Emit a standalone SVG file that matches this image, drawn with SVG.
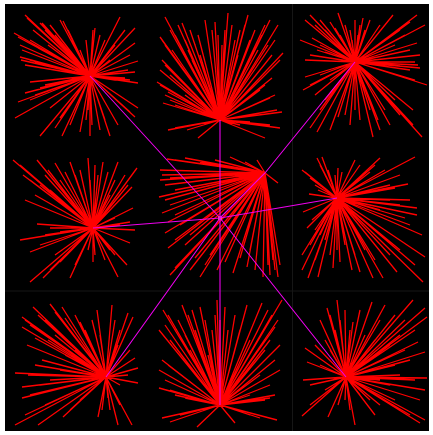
<svg xmlns="http://www.w3.org/2000/svg" width="433" height="435" viewBox="0 0 433 435">
<style>
.s{stroke:#ff0000;stroke-width:1.3;fill:none}
.e{stroke:#ee00ee;stroke-width:1.1;fill:none}
.g{stroke:#161616;stroke-width:1}
</style>
<rect x="0" y="0" width="433" height="435" fill="#ffffff"/>
<rect x="5" y="4" width="424" height="427" fill="#000000"/>
<g id="grid">
<line class="g" x1="292.5" y1="4" x2="292.5" y2="431"/>
<line class="g" x1="5" y1="291" x2="429" y2="291"/>
</g>
<g id="hub-tl">
<path class="s" d="M90 76L25 15M90 76L27 18M90 76L14 33M90 76L18 37M90 76L20 45M90 76L22 50M90 76L20 57M90 76L21 60M90 76L30 60M90 76L35 62M90 76L40 23M90 76L42 23M90 76L45 30M90 76L50 25M90 76L55 35M90 76L60 20M90 76L63 21M90 76L68 30M90 76L72 40M90 76L48 45M90 76L30 40M90 76L33 30M90 76L38 48M90 76L60 48M90 76L25 65M90 76L95 28M90 76L93 30M90 76L86 40M90 76L80 50M90 76L100 35M90 76L105 40M90 76L120 17M90 76L125 30M90 76L135 28M90 76L135 43M90 76L138 61M90 76L135 72M90 76L130 55M90 76L115 45M90 76L110 60M90 76L128 70M90 76L138 83M90 76L125 78M90 76L130 80M90 76L115 80M90 76L138 108M90 76L135 117M90 76L130 112M90 76L118 125M90 76L110 136M90 76L105 120M90 76L100 130M90 76L90 136M90 76L92 125M90 76L86 120M90 76L88 110M90 76L80 132M90 76L62 136M90 76L55 128M90 76L40 136M90 76L50 108M90 76L60 118M90 76L70 125M90 76L15 118M90 76L18 102M90 76L25 93M90 76L30 100M90 76L35 95M90 76L40 88M90 76L50 90M90 76L30 82M90 76L45 85"/>
</g>
<g id="hub-tm">
<path class="s" d="M220 120L157 82M220 120L160 85M220 120L163 103M220 120L170 100M220 120L165 95M220 120L175 105M220 120L168 92M220 120L160 70M220 120L162 60M220 120L165 65M220 120L170 75M220 120L180 80M220 120L185 95M220 120L160 37M220 120L162 40M220 120L165 45M220 120L165 17M220 120L170 30M220 120L172 50M220 120L175 35M220 120L178 25M220 120L182 23M220 120L185 40M220 120L188 50M220 120L190 30M220 120L195 45M220 120L192 60M220 120L198 35M220 120L200 55M220 120L205 20M220 120L208 40M220 120L212 30M220 120L215 22M220 120L218 35M220 120L222 45M220 120L225 30M220 120L228 13M220 120L232 25M220 120L235 40M220 120L238 55M220 120L240 30M220 120L245 25M220 120L248 15M220 120L250 40M220 120L255 30M220 120L258 50M220 120L262 35M220 120L265 25M220 120L270 20M220 120L268 45M220 120L272 55M220 120L278 25M220 120L275 40M220 120L283 53M220 120L280 60M220 120L272 78M220 120L270 70M220 120L265 85M220 120L260 90M220 120L275 95M220 120L270 98M220 120L277 110M220 120L282 112M220 120L168 130M220 120L175 128M220 120L187 130M220 120L198 138M220 120L265 138M220 120L280 128M220 120L250 122M220 120L270 125M220 120L240 125"/>
</g>
<g id="hub-tr">
<path class="s" d="M355 62L305 20M355 62L310 15M355 62L315 25M355 62L320 20M355 62L325 30M355 62L330 22M355 62L338 13M355 62L335 28M355 62L340 35M355 62L345 25M355 62L300 40M355 62L312 38M355 62L320 45M355 62L317 50M355 62L305 60M355 62L310 55M355 62L325 52M355 62L350 30M355 62L355 20M355 62L360 25M355 62L363 18M355 62L358 35M355 62L365 30M355 62L352 40M355 62L370 20M355 62L380 25M355 62L393 15M355 62L400 30M355 62L410 22M355 62L417 15M355 62L425 25M355 62L405 35M355 62L417 43M355 62L410 50M355 62L420 55M355 62L395 45M355 62L385 40M355 62L418 65M355 62L415 62M355 62L420 68M355 62L410 70M355 62L400 66M355 62L427 85M355 62L415 80M355 62L405 78M355 62L413 110M355 62L422 137M355 62L413 125M355 62L400 115M355 62L395 100M355 62L385 110M355 62L390 125M355 62L380 130M355 62L373 137M355 62L378 120M355 62L370 110M355 62L360 120M355 62L350 125M355 62L355 110M355 62L345 115M355 62L338 117M355 62L330 130M355 62L317 132M355 62L310 128M355 62L320 110M355 62L325 100M355 62L303 90M355 62L305 77M355 62L310 85M355 62L315 95M355 62L320 75M355 62L330 80"/>
</g>
<g id="hub-ml">
<path class="s" d="M93 228L13 160M93 228L20 165M93 228L23 175M93 228L30 180M93 228L25 200M93 228L35 195M93 228L40 185M93 228L37 160M93 228L45 175M93 228L50 190M93 228L55 163M93 228L60 180M93 228L65 172M93 228L48 170M93 228L70 162M93 228L75 175M93 228L80 170M93 228L88 158M93 228L90 180M93 228L95 165M93 228L98 175M93 228L103 162M93 228L108 172M93 228L118 162M93 228L115 180M93 228L125 175M93 228L137 168M93 228L128 185M93 228L132 187M93 228L120 195M93 228L110 195M93 228L133 208M93 228L125 212M93 228L135 230M93 228L120 225M93 228L115 218M93 228L130 222M93 228L130 243M93 228L127 265M93 228L118 277M93 228L115 255M93 228L110 250M93 228L105 260M93 228L93 262M93 228L95 255M93 228L88 250M93 228L70 278M93 228L75 265M93 228L60 262M93 228L43 278M93 228L30 282M93 228L50 270M93 228L55 255M93 228L30 252M93 228L20 240M93 228L40 245M93 228L45 235M93 228L37 224M93 228L60 232M93 228L50 228"/>
</g>
<g id="hub-mr">
<path class="s" d="M337 198L302 170M337 198L305 172M337 198L310 178M337 198L317 158M337 198L322 157M337 198L320 165M337 198L325 175M337 198L328 170M337 198L315 185M337 198L309 194M337 198L318 190M337 198L338 168M337 198L335 175M337 198L342 172M337 198L355 160M337 198L360 165M337 198L380 158M337 198L375 165M337 198L370 172M337 198L385 170M337 198L415 157M337 198L400 175M337 198L390 185M337 198L408 184M337 198L395 188M337 198L417 208M337 198L417 215M337 198L410 200M337 198L400 205M337 198L390 200M337 198L380 210M337 198L410 225M337 198L405 218M337 198L422 235M337 198L425 257M337 198L423 282M337 198L415 265M337 198L400 250M337 198L397 272M337 198L390 255M337 198L383 278M337 198L375 260M337 198L373 278M337 198L365 250M337 198L360 272M337 198L355 255M337 198L352 270M337 198L345 245M337 198L340 262M337 198L333 268M337 198L337 250M337 198L330 255M337 198L318 277M337 198L308 278M337 198L315 260M337 198L302 270M337 198L302 255M337 198L310 245M337 198L307 228M337 198L315 230M337 198L303 212M337 198L312 220M337 198L320 235M337 198L325 240"/>
</g>
<g id="hub-bl">
<path class="s" d="M106 377L22 317M106 377L25 320M106 377L30 325M106 377L33 307M106 377L38 315M106 377L45 320M106 377L50 304M106 377L55 312M106 377L62 307M106 377L65 318M106 377L70 325M106 377L75 315M106 377L80 322M106 377L40 330M106 377L22 327M106 377L35 338M106 377L27 345M106 377L48 340M106 377L55 335M106 377L60 345M106 377L42 360M106 377L65 355M106 377L75 350M106 377L85 330M106 377L97 310M106 377L92 320M106 377L100 335M106 377L88 340M106 377L112 305M106 377L115 320M106 377L120 330M106 377L128 313M106 377L133 317M106 377L125 335M106 377L118 345M106 377L130 350M106 377L135 358M106 377L138 368M106 377L138 383M106 377L128 375M106 377L120 385M106 377L132 425M106 377L118 425M106 377L120 405M106 377L110 410M106 377L108 398M106 377L98 417M106 377L102 410M106 377L63 417M106 377L70 410M106 377L80 400M106 377L38 425M106 377L15 425M106 377L25 415M106 377L45 405M106 377L22 398M106 377L30 395M106 377L22 387M106 377L40 385M106 377L15 373M106 377L28 375M106 377L50 380M106 377L60 370M106 377L35 365"/>
</g>
<g id="hub-bm">
<path class="s" d="M220 405L159 370M220 405L159 388M220 405L165 380M220 405L170 390M220 405L175 395M220 405L185 398M220 405L162 360M220 405L168 365M220 405L163 310M220 405L159 330M220 405L165 325M220 405L168 315M220 405L170 340M220 405L175 330M220 405L178 320M220 405L182 305M220 405L185 335M220 405L188 315M220 405L190 350M220 405L195 330M220 405L192 310M220 405L200 307M220 405L198 340M220 405L205 320M220 405L208 355M220 405L212 330M220 405L217 300M220 405L215 315M220 405L220 320M220 405L225 307M220 405L228 330M220 405L230 345M220 405L235 315M220 405L240 330M220 405L247 305M220 405L250 340M220 405L255 320M220 405L262 303M220 405L258 330M220 405L265 350M220 405L268 310M220 405L275 327M220 405L272 315M220 405L282 300M220 405L278 320M220 405L270 340M220 405L280 345M220 405L275 360M220 405L280 370M220 405L260 375M220 405L270 385M220 405L275 395M220 405L265 400M220 405L270 398M220 405L250 395M220 405L162 418M220 405L170 422M220 405L180 415M220 405L197 427M220 405L235 423M220 405L277 420M220 405L250 415M220 405L260 418"/>
</g>
<g id="hub-br">
<path class="s" d="M346 377L337 300M346 377L327 308M346 377L320 320M346 377L330 315M346 377L335 330M346 377L325 340M346 377L305 348M346 377L315 345M346 377L330 350M346 377L307 362M346 377L320 365M346 377L340 320M346 377L345 310M346 377L350 330M346 377L353 322M346 377L342 340M346 377L360 310M346 377L372 302M346 377L385 305M346 377L380 320M346 377L395 315M346 377L413 300M346 377L405 320M346 377L425 308M346 377L427 317M346 377L415 330M346 377L400 335M346 377L418 342M346 377L425 352M346 377L405 350M346 377L390 345M346 377L375 340M346 377L365 335M346 377L410 360M346 377L395 365M346 377L427 378M346 377L415 380M346 377L400 375M346 377L390 385M346 377L380 380M346 377L425 390M346 377L420 400M346 377L425 420M346 377L420 423M346 377L410 415M346 377L400 410M346 377L395 400M346 377L380 405M346 377L375 415M346 377L370 400M346 377L360 395M346 377L355 425M346 377L350 410M346 377L345 400M346 377L338 405M346 377L328 417M346 377L302 416M346 377L310 405M346 377L320 400M346 377L303 380M346 377L310 385M346 377L325 390"/>
</g>
<g id="hub-c2">
<path class="s" d="M265 173L167 159M265 173L175 160M265 173L185 158M265 173L200 162M265 173L215 160M265 173L230 157M265 173L245 162M265 173L257 160M265 173L160 170M265 173L162 175M265 173L160 180M265 173L170 178M265 173L165 185M265 173L175 190M265 173L159 197M265 173L165 200M265 173L170 205M265 173L162 213M265 173L175 215M265 173L168 222M265 173L180 225M265 173L165 233M265 173L175 240M265 173L168 248M265 173L185 245M265 173L190 235M265 173L170 275M265 173L175 268M265 173L180 263M265 173L190 270M265 173L195 258M265 173L200 277M265 173L205 265M265 173L210 255M265 173L217 270M265 173L225 262M265 173L233 273M265 173L240 258M265 173L247 267M265 173L250 250M265 173L255 270M265 173L263 277M265 173L268 265M265 173L270 275M265 173L273 260M265 173L275 270M265 173L278 277M265 173L280 265M265 173L272 250M265 173L278 183"/>
</g>
<g id="hub-center">
<rect x="218" y="216" width="4" height="4" fill="#e8c000"/>
</g>
<g id="connectors">
<path class="e" d="M220 218L90 76M220 218L220 120M220 218L265 173L355 62M220 218L93 228M220 218L337 198M220 218L106 377M220 218L220 405M220 218L346 377"/>
</g>
</svg>
